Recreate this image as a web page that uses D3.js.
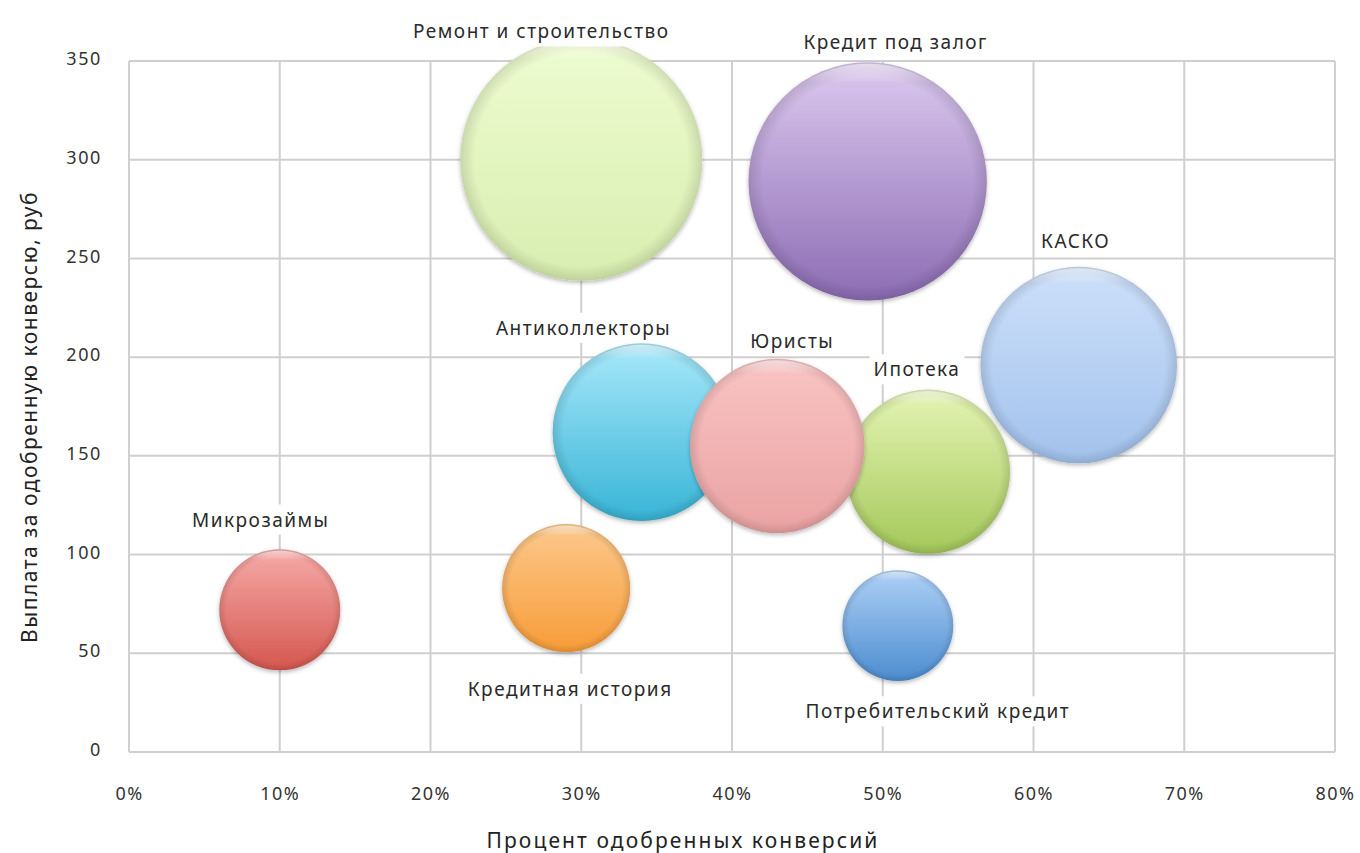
<!DOCTYPE html>
<html><head><meta charset="utf-8">
<script src="https://cdn.jsdelivr.net/npm/d3@7"></script>
<style>
html,body{margin:0;padding:0;background:#fff;}
svg{display:block;font-family:"Noto Sans","Open Sans",sans-serif;}
</style></head>
<body>
<svg id="chart" width="1360" height="853"></svg>
<script>
// ---- data ----
const categories = ["Ремонт и строительство","Кредит под залог","КАСКО","Ипотека","Антиколлекторы","Юристы","Микрозаймы","Кредитная история","Потребительский кредит"];
const approvedPct = [30, 49, 63, 53, 34, 43, 10, 29, 51];          // % одобренных конверсий
const payout      = [300, 289, 196, 142, 162, 155, 72, 83, 64];     // выплата, руб
const bubbleSize  = [100, 97, 66, 46, 54, 52, 25, 28, 21];         // относительный размер
const xTicks = [0,10,20,30,40,50,60,70,80];
const yTicks = [0,50,100,150,200,250,300,350];
const xTitle = "Процент одобренных конверсий";
const yTitle = "Выплата за одобренную конверсю, руб";

// ---- styles / layout ----
const colors = [
  ["#eefcd0","#d8eeb0"],
  ["#dcc9ef","#8c6cb4"],
  ["#cde0fa","#a2c2ec"],
  ["#e4f4b4","#a4c85a"],
  ["#a8e8fa","#38b4d6"],
  ["#f9c4c4","#eaa2a2"],
  ["#f6aaa8","#d4574f"],
  ["#fcc88c","#f79c38"],
  ["#aed0f6","#4c8ccf"]
];
const labelOffsets = [[-40,-128],[28,-139],[-3,-124],[-11,-102],[-58,-104],[15,-105],[-19,-90],[4,101],[40,86]];

const svg = d3.select("#chart");
const m = {left:129, right:1335, top:61, bottom:752};
const x = d3.scaleLinear().domain([0,80]).range([m.left,m.right]);
const y = d3.scaleLinear().domain([0,350]).range([m.bottom,m.top]);
const r = d3.scaleSqrt().domain([0,100]).range([0,121]);

const defs = svg.append("defs");
const f = defs.append("filter").attr("id","shadow").attr("x","-20%").attr("y","-20%").attr("width","140%").attr("height","140%");
f.append("feDropShadow").attr("dx",0).attr("dy",2).attr("stdDeviation",2).attr("flood-color","#000").attr("flood-opacity",0.28);

colors.forEach((c,i)=>{
  const g = defs.append("linearGradient").attr("id","g"+i).attr("x1",0).attr("y1",0).attr("x2",0).attr("y2",1);
  g.append("stop").attr("offset","0%").attr("stop-color",c[0]);
  g.append("stop").attr("offset","100%").attr("stop-color",c[1]);
});
const rim = defs.append("radialGradient").attr("id","rim").attr("cx","50%").attr("cy","50%").attr("r","50%");
rim.append("stop").attr("offset","88%").attr("stop-color","#000").attr("stop-opacity",0);
rim.append("stop").attr("offset","100%").attr("stop-color","#000").attr("stop-opacity",0.12);
const hl = defs.append("linearGradient").attr("id","hl").attr("x1",0).attr("y1",0).attr("x2",0).attr("y2",1);
hl.append("stop").attr("offset","0%").attr("stop-color","#fff").attr("stop-opacity",0.55);
hl.append("stop").attr("offset","8%").attr("stop-color","#fff").attr("stop-opacity",0);
hl.append("stop").attr("offset","100%").attr("stop-color","#fff").attr("stop-opacity",0);

// grid
const grid = svg.append("g").attr("stroke","#cfcfcf").attr("stroke-width",2).attr("fill","none");
grid.selectAll("line.v").data(xTicks).join("line")
  .attr("x1",d=>x(d)).attr("x2",d=>x(d)).attr("y1",m.top).attr("y2",m.bottom);
grid.selectAll("line.h").data(yTicks).join("line")
  .attr("x1",m.left).attr("x2",m.right).attr("y1",d=>y(d)).attr("y2",d=>y(d));

// axes (labels only)
const xAxis = svg.append("g").attr("transform",`translate(0,${m.bottom+32})`)
  .call(d3.axisBottom(x).tickValues(xTicks).tickFormat(d=>d+"%").tickSize(0));
xAxis.select(".domain").remove();
xAxis.selectAll("text").attr("font-size",18).attr("letter-spacing",1.5).attr("fill","#333").attr("font-family","Noto Sans");
const yAxis = svg.append("g").attr("transform",`translate(${m.left-24},0)`)
  .call(d3.axisLeft(y).tickValues(yTicks).tickSize(0));
yAxis.select(".domain").remove();
yAxis.selectAll("text").attr("font-size",18).attr("letter-spacing",1.6).attr("fill","#333").attr("font-family","Noto Sans").attr("dy","0.2em");

// titles
svg.append("text").attr("x",683).attr("y",848).attr("text-anchor","middle")
  .attr("font-size",21).attr("letter-spacing",2.1).attr("fill","#222").text(xTitle);
svg.append("text").attr("transform","translate(37,417) rotate(-90)").attr("text-anchor","middle")
  .attr("font-size",21).attr("letter-spacing",1.5).attr("fill","#222").text(yTitle);

// bubbles
const data = categories.map((c,i)=>({c,i,x:approvedPct[i],y:payout[i],s:bubbleSize[i]}));
const bg = svg.append("g");
const b = bg.selectAll("g.b").data(data).join("g").attr("class","b");
b.append("circle").attr("cx",d=>x(d.x)).attr("cy",d=>y(d.y)).attr("r",d=>r(d.s))
  .attr("fill",d=>`url(#g${d.i})`).attr("filter","url(#shadow)");
b.append("circle").attr("cx",d=>x(d.x)).attr("cy",d=>y(d.y)).attr("r",d=>r(d.s))
  .attr("fill","url(#rim)");
b.append("circle").attr("cx",d=>x(d.x)).attr("cy",d=>y(d.y)).attr("r",d=>r(d.s)-1.5)
  .attr("fill","url(#hl)");

// labels
const lg = svg.append("g");
data.forEach(d=>{
  const g = lg.append("g");
  const t = g.append("text").attr("x",x(d.x)+labelOffsets[d.i][0]).attr("y",y(d.y)+labelOffsets[d.i][1])
    .attr("text-anchor","middle").attr("dy","0.35em").attr("font-size",19).attr("letter-spacing",1.5).attr("fill","#2a2a2a").text(d.c);
  const bb = t.node().getBBox();
  g.insert("rect","text").attr("x",bb.x-4).attr("y",bb.y-2).attr("width",bb.width+8).attr("height",bb.height+4).attr("fill","#fff");
});
</script>
</body></html>
